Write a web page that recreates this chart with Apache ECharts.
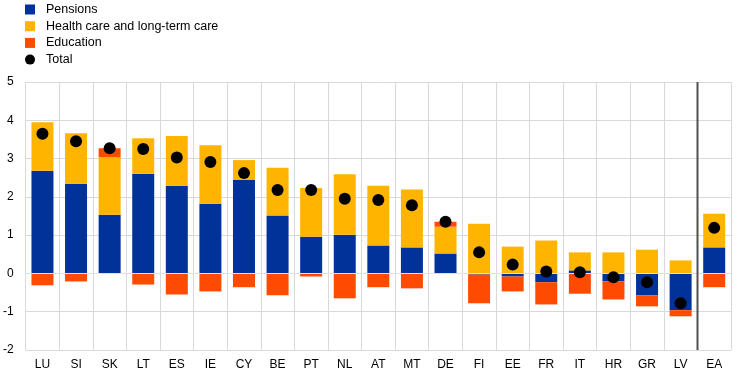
<!DOCTYPE html>
<html><head><meta charset="utf-8">
<script src="https://cdn.jsdelivr.net/npm/echarts@6/dist/echarts.min.js"></script>
<style>html,body{margin:0;padding:0;background:#fff}#c{width:744px;height:378px}</style>
</head><body><div id="c"></div>
<script>
const categories = ['LU','SI','SK','LT','ES','IE','CY','BE','PT','NL','AT','MT','DE','FI','EE','FR','IT','HR','GR','LV','EA'];
const pensions  = [2.68, 2.34, 1.53, 2.60, 2.29, 1.82, 2.44, 1.51, 0.96, 1.01, 0.73, 0.68, 0.52, -0.03, -0.08, -0.23, 0.08, -0.21, -0.57, -0.96, 0.68];
const health    = [1.27, 1.32, 1.51, 0.93, 1.30, 1.53, 0.52, 1.25, 1.27, 1.58, 1.56, 1.51, 0.70, 1.30, 0.70, 0.86, 0.47, 0.55, 0.62, 0.34, 0.88];
const education = [-0.31, -0.21, 0.23, -0.29, -0.55, -0.47, -0.36, -0.57, -0.08, -0.65, -0.36, -0.39, 0.13, -0.75, -0.39, -0.58, -0.53, -0.47, -0.29, -0.16, -0.36];
const total     = [3.65, 3.45, 3.27, 3.25, 3.03, 2.91, 2.62, 2.18, 2.18, 1.95, 1.92, 1.78, 1.35, 0.55, 0.23, 0.05, 0.03, -0.10, -0.23, -0.78, 1.19];
const yTicks = { min: -2, max: 5, interval: 1 };

const chart = echarts.init(document.getElementById('c'), null, {renderer: 'canvas'});
const font = 'Liberation Sans, Arial, sans-serif';
const barW = 22;
chart.setOption({
  animation: false,
  textStyle: { fontFamily: font },
  legend: {
    orient: 'vertical', left: 20, top: -2, itemWidth: 10, itemHeight: 10, itemGap: 3.7,
    textStyle: { fontFamily: font, fontSize: 12.5, color: '#000', padding: [0,0,0,6] },
    data: [
      { name: 'Pensions', icon: 'rect' },
      { name: 'Health care and long-term care', icon: 'rect' },
      { name: 'Education', icon: 'rect' },
      { name: 'Total', icon: 'circle' }
    ]
  },
  grid: { left: 25, right: 13, top: 82, bottom: 28, containLabel: false },
  xAxis: {
    type: 'category', data: categories, boundaryGap: true,
    axisLine: { show: false }, axisTick: { show: false },
    axisLabel: { color: '#000', fontSize: 12, fontFamily: font, margin: 9, interval: 0 },
    splitLine: { show: true, interval: 0, lineStyle: { color: '#d9d9d9', width: 1 } }
  },
  yAxis: {
    type: 'value', min: yTicks.min, max: yTicks.max, interval: yTicks.interval,
    axisLine: { show: false }, axisTick: { show: false },
    axisLabel: { color: '#000', fontSize: 12, fontFamily: font, margin: 12 },
    splitLine: { lineStyle: { color: '#d9d9d9', width: 1 } }
  },
  series: [
    { name: 'Pensions', type: 'bar', stack: 's', data: pensions, barWidth: barW,
      itemStyle: { color: '#003299' },
      markLine: { silent: true, symbol: 'none', label: { show: false },
        lineStyle: { color: '#e0e0e0', width: 1, type: 'solid' }, data: [{ yAxis: 0 }] } },
    { name: 'Health care and long-term care', type: 'bar', stack: 's', data: health, barWidth: barW,
      itemStyle: { color: '#FFB400' } },
    { name: 'Education', type: 'bar', stack: 's', data: education, barWidth: barW,
      itemStyle: { color: '#FF4B00' } },
    { name: 'Total', type: 'scatter', data: total, symbol: 'circle', symbolSize: 12, z: 5,
      itemStyle: { color: '#000', opacity: 1 } }
  ]
});

function drawSep() {
  const a = chart.convertToPixel({ xAxisIndex: 0 }, 'LV');
  const b = chart.convertToPixel({ xAxisIndex: 0 }, 'EA');
  const x = Math.round((a + b) / 2) + 0.5;
  const yTop = chart.convertToPixel({ yAxisIndex: 0 }, yTicks.max);
  const yBot = chart.convertToPixel({ yAxisIndex: 0 }, yTicks.min);
  chart.setOption({ graphic: [{ type: 'line', z: 10, silent: true,
    shape: { x1: x, y1: yTop, x2: x, y2: yBot },
    style: { stroke: '#505050', lineWidth: 2 } }] });
}
drawSep();
</script>
</body></html>
